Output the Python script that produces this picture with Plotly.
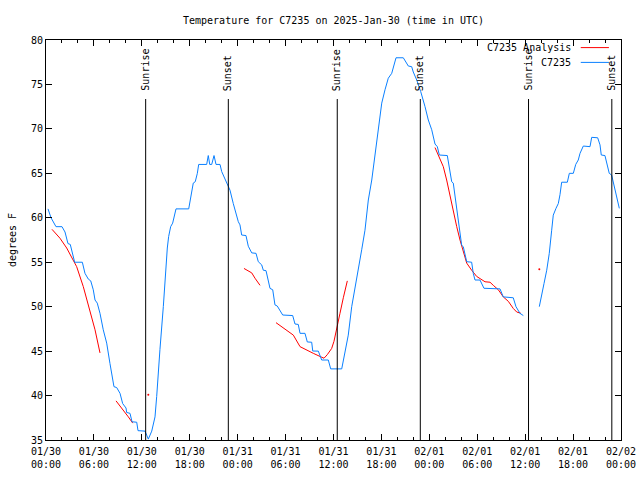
import plotly.graph_objects as go

# hours since 2025-01-30 00:00 UTC
obs_hours = [0.25, 0.63, 1.25, 2.0, 2.38, 2.75, 3.04, 3.42, 3.59, 4.55, 4.88, 5.30, 5.60, 5.92, 6.14, 6.42, 6.76, 7.17, 7.60, 8.01,
             8.35, 8.51, 8.85, 9.27, 9.60, 10.02, 10.10, 10.52, 10.77, 11.36, 11.52, 12.40, 12.61, 12.81, 13.24, 13.65, 13.86, 14.06, 14.27, 14.69,
             14.90, 15.03, 15.19, 15.36, 15.61, 15.86, 16.12, 16.28, 17.87, 18.03, 18.24, 18.44, 18.69, 18.95, 19.12, 20.12, 20.32, 20.50, 20.75, 21.04,
             21.29, 21.79, 22.00, 22.29, 22.70, 23.04, 23.45, 23.79, 24.08, 24.29, 24.50, 25.04, 25.33, 25.76, 26.30, 26.58, 27.01, 27.21, 27.55, 28.05,
             28.39, 28.67, 28.96, 29.64, 30.89, 31.18, 31.59, 31.81, 32.43, 32.72, 33.27, 33.40, 34.10, 34.52, 35.35, 35.65, 37.03, 37.44, 37.85, 38.28,
             38.69, 39.11, 39.53, 39.94, 40.36, 40.79, 41.20, 41.61, 42.04, 42.45, 42.86, 43.29, 43.49, 43.83, 44.74, 45.08, 45.37, 45.79, 45.99, 46.42,
             46.92, 47.46, 47.87, 48.30, 48.71, 49.00, 49.25, 50.25, 50.59, 50.80, 51.00, 51.21, 51.43, 51.63, 51.84, 52.05, 52.25, 52.46, 52.68, 53.30,
             53.50, 53.72, 54.34, 54.84, 55.81, 56.85, 57.26, 58.51, 58.85, 59.35, 59.77, None, 61.77, 62.07, 62.36, 62.70, 63.02, 63.32, 63.52, 63.86,
             64.15, 64.36, 64.57, 65.28, 65.53, 66.03, 66.33, 66.65, 66.87, 67.28, 68.12, 68.33, 69.08, 69.37, 69.53, 69.99, 70.20, 70.53, 70.83, 71.03,
             71.46, 71.79]
obs_temps = [61, 60, 59, 59, 58.4, 57.1, 57, 55.4, 55, 55, 53.75, 53.1, 52.9, 51.9, 50.75, 50.4, 49.25, 47.4, 45.9, 43.6,
             42.1, 41.0, 40.9, 40.25, 39.1, 38.6, 38.1, 38, 37.05, 37, 36.05, 36, 35.55, 35.1, 36, 37.6, 39.9, 42.9, 45.2, 50,
             52.6, 55.25, 56.6, 57.9, 59, 59.4, 60.5, 61, 61, 61.8, 62.75, 63.9, 64.06, 65, 66, 66, 67, 66, 66, 67,
             66, 66, 65.2, 64.6, 63.9, 63.1, 61.6, 60.5, 59.56, 59.2, 58.06, 58, 56.8, 56.05, 56, 55.06, 54.7, 54.1, 54.05, 52.06,
             51.9, 50.2, 50.07, 49.06, 49, 48.05, 48, 47, 47, 46.03, 46, 45.01, 45, 44, 44, 43, 43, 44.9, 46.8, 50,
             52.25, 54.5, 56.4, 58.6, 62, 64.25, 67.25, 70.25, 72.9, 74.4, 75.7, 76.25, 77, 78, 78, 77.4, 77.07, 77, 76.4, 75.5,
             74.2, 72.5, 71, 69.9, 68.3, 68, 67.06, 67, 65.3, 64.06, 63.9, 62.5, 60.9, 59.4, 57.9, 56.9, 56.75, 55.8, 55.06, 55,
             53.75, 53, 53, 52.07, 52, 52, 51.1, 51, 50, 49.25, 49, None, 50, 51.5, 52.6, 54.1, 56, 58.6, 60.3, 61.06,
             61.6, 62.6, 64, 64, 65, 65, 66, 66.5, 67.25, 68.07, 68, 69.05, 69, 68.2, 67.06, 67, 66.3, 65, 64.8, 64.06,
             62.6, 61.06]

ana_hours = [0.75, 1.75, 2.59, 3.22, 3.84, 4.67, 5.51, 6.14, 6.76, None,
             8.77, 9.48, 10.31, 10.86, None,
             12.81, None,
             24.79, 25.76, 26.17, 26.80, None,
             28.80, 29.51, 30.34, 30.97, 31.81, 32.64, 33.47, 34.31, 34.81, 35.22, 35.77, 36.06, 36.40, 36.81, 37.23, 37.73, None,
             48.71, 49.34, 49.75, 50.17, 50.59, 51.00, 51.43, 51.84, 52.25, 52.68, 53.30, 53.93, 54.97, 55.60, 56.01, 56.64, 57.26, 57.89, 58.51, 58.94, 59.48, None,
             61.77]
ana_temps = [58.7, 57.7, 56.6, 55.6, 54.5, 52.25, 49.6, 47.4, 44.8, None,
             39.4, 38.6, 37.6, 36.9, None,
             40.1, None,
             54.3, 53.8, 53.2, 52.4, None,
             48.2, 47.75, 47.3, 46.8, 45.5, 45.1, 44.75, 44.4, 44.2, 44.6, 45.3, 46.1, 47.4, 49.25, 51.0, 52.9, None,
             67.9, 66.5, 65.75, 64.25, 62.4, 60.7, 59.0, 57.5, 56.2, 54.9, 54.1, 53.4, 52.8, 52.75, 52.4, 51.9, 51.1, 50.6, 49.8, 49.4, 49.25, None,
             54.2]

sun_hours = [12.48, 22.83, 36.47, 46.87, 60.42, 70.85]
sun_labels = ["Sunrise", "Sunset", "Sunrise", "Sunset", "Sunrise", "Sunset"]

tick_hours = list(range(0, 73, 6))
tick_labels = ["01/30<br>00:00", "01/30<br>06:00", "01/30<br>12:00", "01/30<br>18:00",
               "01/31<br>00:00", "01/31<br>06:00", "01/31<br>12:00", "01/31<br>18:00",
               "02/01<br>00:00", "02/01<br>06:00", "02/01<br>12:00", "02/01<br>18:00",
               "02/02<br>00:00"]
y_ticks = [35, 40, 45, 50, 55, 60, 65, 70, 75, 80]

FONT = "DejaVu Sans Mono"
RED = "#ff0000"
BLUE = "#0a80ff"

fig = go.Figure()
fig.add_trace(go.Scatter(x=ana_hours, y=ana_temps, mode="lines", line=dict(color=RED, width=1),
                         showlegend=False, connectgaps=False))
# isolated analysis points (no neighbours) drawn as dots
iso_x, iso_y = [], []
for i, (h, t) in enumerate(zip(ana_hours, ana_temps)):
    if h is None:
        continue
    prev_none = i == 0 or ana_hours[i - 1] is None
    next_none = i == len(ana_hours) - 1 or ana_hours[i + 1] is None
    if prev_none and next_none:
        iso_x.append(h)
        iso_y.append(t)
fig.add_trace(go.Scatter(x=iso_x, y=iso_y, mode="markers", marker=dict(color=RED, size=2),
                         showlegend=False))
fig.add_trace(go.Scatter(x=obs_hours, y=obs_temps, mode="lines", line=dict(color=BLUE, width=1),
                         showlegend=False, connectgaps=False))

for h, lab in zip(sun_hours, sun_labels):
    fig.add_shape(type="line", xref="x", yref="paper", x0=h, x1=h, y0=0, y1=0.8525,
                  line=dict(color="black", width=1))
    fig.add_annotation(x=h, xref="x", y=0.8675, yref="paper", text=lab, textangle=-90,
                       showarrow=False, xanchor="center", yanchor="bottom",
                       font=dict(family=FONT, size=10, color="black"))

# gnuplot-style key (text then sample line)
key = [("C7235 Analysis", RED, 0.981), ("C7235", BLUE, 0.944)]
for txt, col, yy in key:
    fig.add_annotation(x=0.9165, xref="paper", y=yy, yref="paper", text=txt, showarrow=False,
                       xanchor="right", yanchor="middle", font=dict(family=FONT, size=10, color="black"))
    fig.add_shape(type="line", xref="paper", yref="paper", x0=0.930, x1=0.979, y0=yy, y1=yy,
                  line=dict(color=col, width=1))

fig.update_layout(
    width=640, height=480,
    margin=dict(l=46, r=19, t=40, b=40, autoexpand=False),
    paper_bgcolor="white", plot_bgcolor="white",
    font=dict(family=FONT, size=10, color="black"),
    title=dict(text="Temperature for C7235 on 2025-Jan-30 (time in UTC)", x=0.5, xref="paper",
               y=1 - 20 / 480, yref="container", xanchor="center", yanchor="middle",
               font=dict(family=FONT, size=10, color="black")),
    showlegend=False,
)
fig.update_xaxes(range=[0, 72], tickmode="array", tickvals=tick_hours, ticktext=tick_labels,
                 ticks="inside", ticklen=6, tickcolor="black", showgrid=False, zeroline=False,
                 showline=True, linecolor="black", linewidth=1, mirror="ticks", automargin=False,
                 ticklabelstandoff=2,
                 minor=dict(tickmode="array", tickvals=list(range(0, 73, 2)), ticks="inside",
                            ticklen=3, tickcolor="black", showgrid=False),
                 tickfont=dict(family=FONT, size=10))
fig.update_yaxes(range=[35, 80], tickmode="array", tickvals=y_ticks,
                 ticks="inside", ticklen=6, tickcolor="black", showgrid=False, zeroline=False,
                 showline=True, linecolor="black", linewidth=1, mirror="ticks", automargin=False,
                 title=dict(text="degrees F", standoff=12, font=dict(family=FONT, size=10)),
                 tickfont=dict(family=FONT, size=10))

fig.write_html("out.html")
